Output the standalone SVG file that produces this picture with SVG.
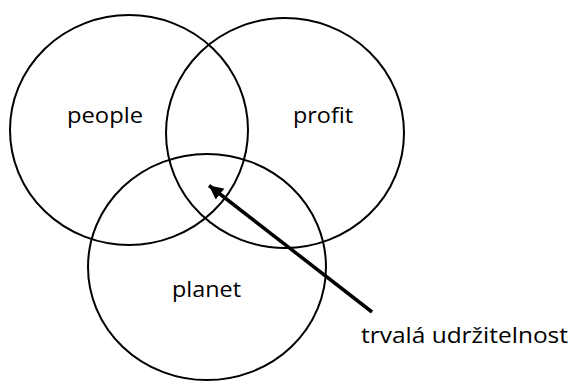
<svg xmlns="http://www.w3.org/2000/svg" width="571" height="381" viewBox="0 0 571 381">
<style>
.c{fill:none;stroke:#000;stroke-width:2}
.t{font-family:"Open Sans","Liberation Sans",sans-serif;font-size:22px;fill:#000}
.a{stroke:#000;stroke-width:3.5;fill:none}
</style>
<defs>
<marker id="ah" markerUnits="userSpaceOnUse" markerWidth="16" markerHeight="14" refX="14" refY="7" orient="auto">
<path d="M0,0 L14,7 L0,14 Z" fill="#000"/>
</marker>
</defs>
<rect width="571" height="381" fill="#fff"/>
<g id="people">
<ellipse class="c" cx="129" cy="130" rx="119" ry="115"/>
<text class="t" x="67" y="123" textLength="76" lengthAdjust="spacingAndGlyphs">people</text>
</g>
<g id="profit">
<ellipse class="c" cx="285" cy="133" rx="119" ry="115"/>
<text class="t" x="293" y="123" textLength="60" lengthAdjust="spacingAndGlyphs">profit</text>
</g>
<g id="planet">
<ellipse class="c" cx="207" cy="267" rx="119" ry="113"/>
<text class="t" x="172" y="297" textLength="69" lengthAdjust="spacingAndGlyphs">planet</text>
</g>
<g id="connectors">
<line class="a" x1="372" y1="312" x2="209" y2="185.5" marker-end="url(#ah)"/>
</g>
<g id="label">
<text class="t" x="361" y="343" textLength="207" lengthAdjust="spacingAndGlyphs">trvalá udržitelnost</text>
</g>
</svg>
